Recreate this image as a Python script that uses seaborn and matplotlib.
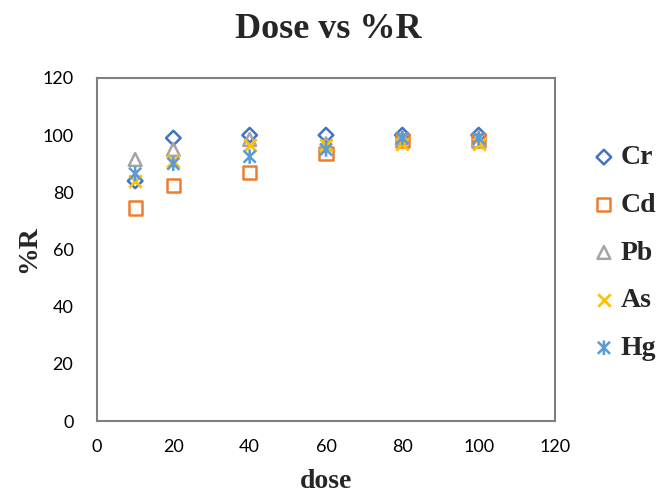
import matplotlib
matplotlib.use("Agg")
import matplotlib.pyplot as plt
from matplotlib.path import Path
import seaborn as sns
import pandas as pd

dose = [10, 20, 40, 60, 80, 100]
cr = [84, 99, 100, 100, 100, 100]
cd = [74.5, 82.5, 87, 93.5, 98, 98]
pb = [91.5, 95, 98.5, 97, 99, 98]
as_ = [84, 91, 96.5, 96.5, 97, 97]
hg = [86.5, 90, 92.5, 95, 99, 99]

metals = ["Cr", "Cd", "Pb", "As", "Hg"]
values = [cr, cd, pb, as_, hg]
colors = ["#4472C4", "#ED7D31", "#A5A5A5", "#FFC000", "#5B9BD5"]

# star marker: an x crossed by a vertical stroke
star = Path(
    [(-1, -1), (1, 1), (-1, 1), (1, -1), (0, -1.2), (0, 1.2)],
    [Path.MOVETO, Path.LINETO, Path.MOVETO, Path.LINETO, Path.MOVETO, Path.LINETO],
)
markers = ["D", "s", "^", "x", star]
sizes = [55, 90, 85, 80, 110]
filled = [True, True, True, False, True]

df = pd.DataFrame(
    {"dose": dose * len(metals),
     "R": [v for vals in values for v in vals],
     "metal": [m for m in metals for _ in dose]}
)

sns.set_style("white")
plt.rcParams["font.family"] = ["Lato", "DejaVu Sans"]

fig = plt.figure(figsize=(6.56, 4.93), dpi=100)
ax = fig.add_axes([97 / 656, 1 - 421 / 493, (555 - 97) / 656, (421 - 78) / 493])

for m, c, mk, s, f in zip(metals, colors, markers, sizes, filled):
    sub = df[df["metal"] == m]
    if f:
        sns.scatterplot(data=sub, x="dose", y="R", ax=ax, marker=mk, s=s,
                        facecolors="none", edgecolor=c, linewidth=1.8,
                        label=m, zorder=3)
    else:
        sns.scatterplot(data=sub, x="dose", y="R", ax=ax, marker=mk, s=s,
                        color=c, linewidth=2.0, label=m, zorder=3)

ax.set_xlim(0, 120)
ax.set_ylim(0, 120)
ax.set_xticks(range(0, 121, 20))
ax.set_yticks(range(0, 121, 20))
ax.tick_params(axis="both", length=0, labelsize=13, colors="#000000")
ax.tick_params(axis="y", pad=17)
ax.tick_params(axis="x", pad=13)
for sp in ax.spines.values():
    sp.set_color("#7f7f7f")
    sp.set_linewidth(1.5)

serif = ["Liberation Serif", "DejaVu Serif"]
ax.set_xlabel("dose", fontsize=20, fontweight="bold", family=serif, labelpad=10)
ax.set_ylabel("%R", fontsize=20, fontweight="bold", family=serif, labelpad=1)
fig.text(0.5, 1 - 30 / 493, "Dose vs %R", ha="center", va="center",
         fontsize=26, fontweight="bold", family=serif)

handles, labels = ax.get_legend_handles_labels()
if ax.legend_:
    ax.legend_.remove()
fig.legend(handles, labels, loc="center left", bbox_to_anchor=(590 / 656, 1 - 253 / 493),
           frameon=False, prop={"family": serif, "weight": "bold", "size": 20},
           labelspacing=0.8, handletextpad=0.1, handlelength=1.0,
           borderaxespad=0, borderpad=0)

fig.savefig("out.png", dpi=100)
